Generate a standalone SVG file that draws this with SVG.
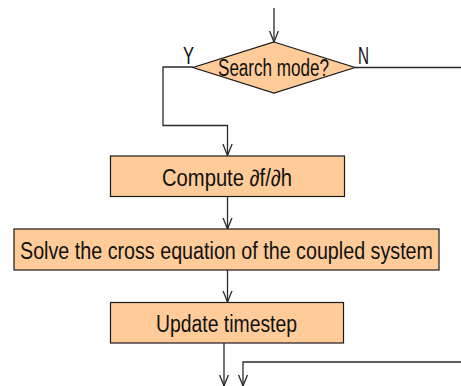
<svg xmlns="http://www.w3.org/2000/svg" width="461" height="386" viewBox="0 0 461 386">
  <style>
    .box { fill: #FFCC99; stroke: #1a1a1a; stroke-width: 1.2; }
    .lbl { font-family: "Liberation Sans Narrow", "Arial Narrow", "Liberation Sans", Arial, sans-serif; font-size: 23px; fill: #111; }
    .edge { fill: none; stroke: #2a2a2a; stroke-width: 1.3; }
  </style>
  <defs>
    <marker id="arr" viewBox="0 -6 12 12" refX="11.5" refY="0" markerWidth="12" markerHeight="12" markerUnits="userSpaceOnUse" orient="auto">
      <path d="M0,-4.6 L11.5,0 L0,4.6" fill="none" stroke="#2a2a2a" stroke-width="1.3"/>
    </marker>
  </defs>
  <rect width="461" height="386" fill="#ffffff"/>

  <!-- connectors -->
  <g id="connectors">
    <path class="edge" d="M274,8 V42" marker-end="url(#arr)"/>
    <path class="edge" d="M193,67 H163 V125.5 H227.5 V155.5" marker-end="url(#arr)"/>
    <path class="edge" d="M355,67.5 H461"/>
    <path class="edge" d="M227.5,197 V229" marker-end="url(#arr)"/>
    <path class="edge" d="M227.5,270 V302" marker-end="url(#arr)"/>
    <path class="edge" d="M224,343 V386" marker-end="url(#arr)"/>
    <path class="edge" d="M461,362 H243 V386" marker-end="url(#arr)"/>
    <text class="lbl" x="183" y="64" textLength="11" lengthAdjust="spacingAndGlyphs">Y</text>
    <text class="lbl" x="358" y="64" textLength="11" lengthAdjust="spacingAndGlyphs">N</text>
  </g>

  <!-- decision -->
  <g id="search-mode">
    <polygon class="box" points="274,42 355,67.5 274,93 193,67.5"/>
    <text class="lbl" x="218" y="76" textLength="111" lengthAdjust="spacingAndGlyphs">Search mode?</text>
  </g>

  <g id="compute">
    <rect class="box" x="110.5" y="156" width="234" height="40.5"/>
    <text class="lbl" x="162" y="186" textLength="130" lengthAdjust="spacingAndGlyphs">Compute ∂f/∂h</text>
  </g>

  <g id="solve">
    <rect class="box" x="14" y="229" width="425" height="41"/>
    <text class="lbl" x="20" y="259" textLength="413" lengthAdjust="spacingAndGlyphs">Solve the cross equation of the coupled system</text>
  </g>

  <g id="update">
    <rect class="box" x="110.5" y="302.5" width="233" height="40.5"/>
    <text class="lbl" x="156" y="332" textLength="141" lengthAdjust="spacingAndGlyphs">Update timestep</text>
  </g>
</svg>
